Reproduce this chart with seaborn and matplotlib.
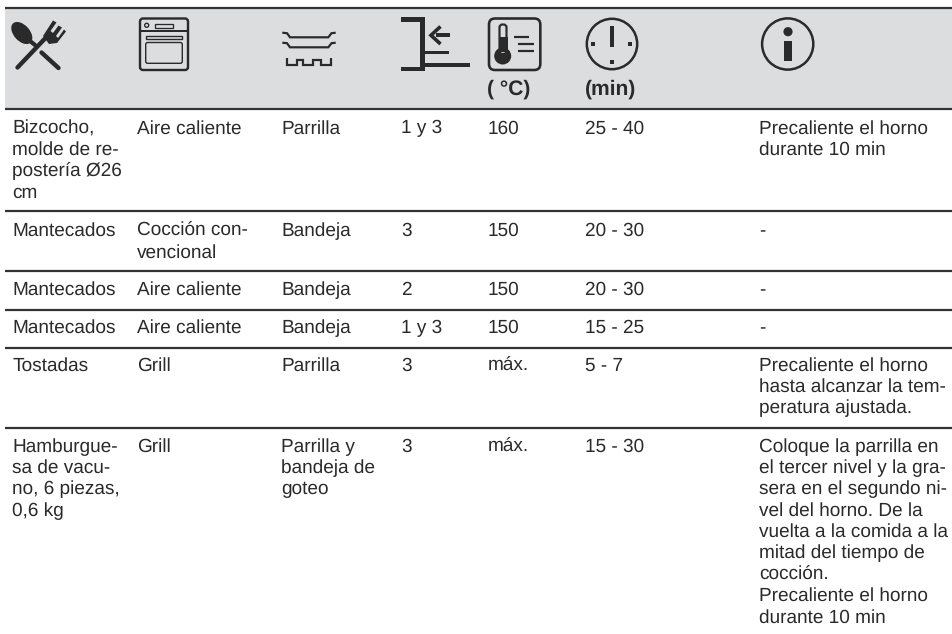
import matplotlib
matplotlib.use("Agg")
import matplotlib.pyplot as plt
from matplotlib.patches import Circle, Ellipse, FancyBboxPatch, Polygon, Rectangle
import pandas as pd
import seaborn as sns

# ---- table content -------------------------------------------------------
platos = ["Bizcocho,\nmolde de re-\npostería Ø26\ncm", "Mantecados", "Mantecados",
          "Mantecados", "Tostadas", "Hamburgue-\nsa de vacu-\nno, 6 piezas,\n0,6 kg"]
funciones = ["Aire caliente", "Cocción con-\nvencional", "Aire caliente",
             "Aire caliente", "Grill", "Grill"]
accesorios = ["Parrilla", "Bandeja", "Bandeja", "Bandeja", "Parrilla",
              "Parrilla y\nbandeja de\ngoteo"]
niveles = ["1 y 3", "3", "2", "1 y 3", "3", "3"]
temperaturas = ["160", "150", "150", "150", "máx.", "máx."]
tiempos = ["25 - 40", "20 - 30", "20 - 30", "15 - 25", "5 - 7", "15 - 30"]
notas = ["Precaliente el horno\ndurante 10 min", "-", "-", "-",
         "Precaliente el horno\nhasta alcanzar la tem-\nperatura ajustada.",
         "Coloque la parrilla en\nel tercer nivel y la gra-\nsera en el segundo ni-\n"
         "vel del horno. De la\nvuelta a la comida a la\nmitad del tiempo de\n"
         "cocción.\nPrecaliente el horno\ndurante 10 min"]
unidades = ["( °C)", "(min)"]

# ---- layout (pixels) -----------------------------------------------------
col_x = [12.4, 136.9, 281.4, 401.4, 487.4, 585.4, 759.4]
row_base = [133.5, 236, 295, 333, 370.7, 451.7]
rule_y = [7.5, 109, 211, 271, 309.5, 348, 428]
LINE = 21.35
INK = "#2a2a2a"
BAND = "#dcddde"

sns.set_theme(style="white", rc={"font.family": ["Liberation Sans", "DejaVu Sans"],
                                 "text.hinting": "none", "text.hinting_factor": 1})
fig = plt.figure(figsize=(9.52, 6.34), dpi=100, facecolor="white")
ax = fig.add_axes([0, 0, 1, 1])

ax.add_patch(Rectangle((5, 7.5), 947, 101.5, fc=BAND, ec="none", zorder=0))

rules = pd.DataFrame({
    "x": [5, 952] * len(rule_y),
    "y": [y for y in rule_y for _ in range(2)],
    "rule": [i for i in range(len(rule_y)) for _ in range(2)],
})
sns.lineplot(data=rules, x="x", y="y", units="rule", estimator=None, color="#333333",
             linewidth=1.6, ax=ax, legend=False, solid_capstyle="butt")

# ---- text ----------------------------------------------------------------
columns = [platos, funciones, accesorios, niveles, temperaturas, tiempos, notas]
for cx, col in zip(col_x, columns):
    for base, cell in zip(row_base, col):
        for k, line in enumerate(cell.split("\n")):
            ax.text(cx, base + k * LINE, line, fontsize=13.6, color=INK,
                    ha="left", va="baseline")
for cx, lab in zip(col_x[4:6], unidades):
    ax.text(cx, 95, lab, fontsize=15.2, fontweight="bold", color=INK,
            ha="left", va="baseline")


def seg(xs, ys, lw=1.5, color=INK, cap="butt", join="miter"):
    ax.plot(xs, ys, color=color, lw=lw * 0.72, solid_capstyle=cap, solid_joinstyle=join)


def box(x0, x1, y0, y1, lw=1.5, pad=0, fc="none"):
    if pad:
        ax.add_patch(FancyBboxPatch((x0 + pad, y0 + pad), x1 - x0 - 2 * pad, y1 - y0 - 2 * pad,
                                    boxstyle=f"round,pad={pad},rounding_size={pad}",
                                    fc=fc, ec=INK, lw=lw * 0.72))
    else:
        ax.add_patch(Rectangle((x0, y0), x1 - x0, y1 - y0, fc=fc, ec=INK, lw=lw * 0.72))


def solid(x0, x1, y0, y1):
    ax.add_patch(Rectangle((x0, y0), x1 - x0, y1 - y0, fc=INK, ec="none"))


# spoon and fork
ax.add_patch(Ellipse((21.8, 33), 26, 16, angle=48, fc=INK, ec="none"))
seg([30, 35], [41, 45], lw=4.2, cap="round")
seg([41.5, 58.5], [52.5, 68], lw=4.4, cap="round")
seg([17.5, 45.5], [67.5, 38], lw=4.4, cap="round")
ax.add_patch(Polygon([(43, 36), (53, 20.5), (56.5, 22.5), (50.5, 31), (53, 33), (58.5, 25.5),
                      (62, 27.5), (56, 36), (58, 38), (64, 29.5), (66, 31.5), (57, 43), (49, 44)],
                     fc=INK, ec="none"))

# oven
box(140, 188, 18.5, 70, lw=2.4, pad=3)
seg([140, 188], [30.7, 30.7], lw=2)
ax.add_patch(Circle((146.7, 25.3), 2, fc="none", ec=INK, lw=1))
box(154.5, 172.5, 24, 27.7, lw=1.3)
box(146, 181.7, 35.5, 39.3, lw=1.4)
box(145.7, 182.3, 42.5, 63.3, lw=1.4, pad=2)

# trays and rack
for dy in (0, 10):
    seg([282.3, 287, 290, 328.3, 331.5, 335.7],
        [32.7 + dy, 33.2 + dy, 37.3 + dy, 37.3 + dy, 33.2 + dy, 32.7 + dy], lw=2.2)
seg([286.7, 286.7, 296.7, 296.7, 303.3, 303.3, 313.3, 313.3, 321, 321, 331, 331],
    [58.3, 65, 65, 60, 60, 65, 65, 60, 60, 65, 65, 58.3], lw=2.2)

# shelf level
solid(401, 425, 17.3, 22)
solid(420, 425, 17.3, 70.7)
solid(401, 425, 66.7, 70.7)
solid(425, 470, 63.3, 67.3)
solid(425, 449, 50.9, 54)
solid(436, 450, 33.4, 37.2)
seg([440.5, 431, 440.5], [26.5, 35.3, 44], lw=3.6)

# thermometer
box(489, 540.3, 18.5, 70, lw=2.6, pad=6)
ax.add_patch(Circle((502.7, 56), 8.5, fc=INK, ec="none"))
box(499.5, 506.5, 24.5, 54, lw=2.2, pad=3, fc=BAND)
solid(498.5, 507.5, 37, 52)
seg([513.7, 529.3], [36.7, 36.7], lw=2.2)
seg([517.7, 534.3], [44, 44], lw=2.2)
seg([517.7, 534.3], [51, 51], lw=2.2)

# clock
ax.add_patch(Circle((612, 44), 25.2, fc="none", ec=INK, lw=1.8))
seg([612, 612], [26, 46.7], lw=4)
for dx, dy in ((593.3, 44), (630, 44), (612, 62.3)):
    solid(dx - 2, dx + 2, dy - 2, dy + 2)

# information
ax.add_patch(Circle((787.7, 44), 25.6, fc="none", ec=INK, lw=1.8))
ax.add_patch(Circle((788, 31.7), 4.6, fc=INK, ec="none"))
solid(784.3, 791.7, 40.7, 60.7)

ax.set_xlim(0, 952)
ax.set_ylim(634, 0)
ax.set_xlabel("")
ax.set_ylabel("")
sns.despine(ax=ax, left=True, bottom=True)
ax.axis("off")
fig.savefig("out.png", dpi=100, facecolor="white")
